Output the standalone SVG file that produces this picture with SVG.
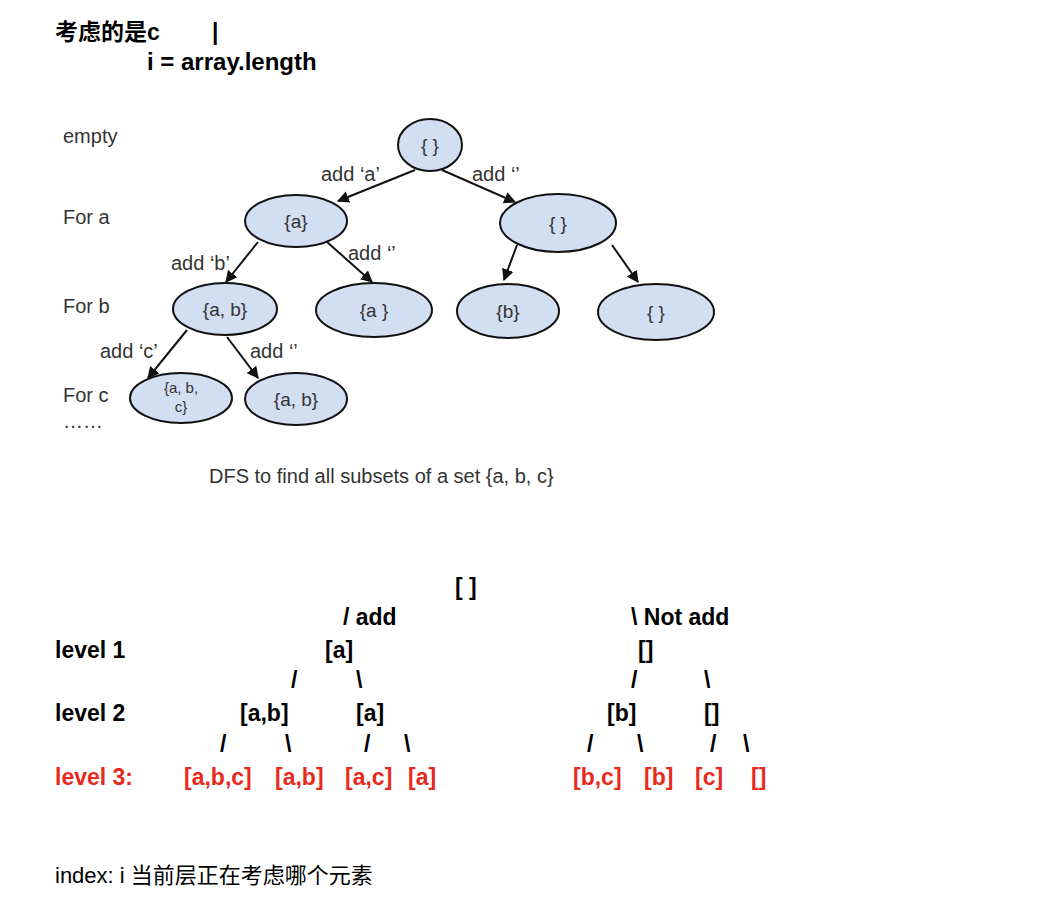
<svg xmlns="http://www.w3.org/2000/svg" width="1041" height="912" viewBox="0 0 1041 912">
<style>
.b{font-family:"Liberation Sans","Noto Sans CJK SC",sans-serif;font-weight:bold;font-size:23px;fill:#000}
.r{fill:#e8291c}
.t{font-family:"Liberation Sans",sans-serif;font-size:20px;fill:#333}
.n{font-family:"Liberation Sans",sans-serif;font-size:19px;fill:#333;text-anchor:middle}
.e{fill:#d2def2;stroke:#111;stroke-width:2}
.c{stroke:#111;stroke-width:2;fill:none;marker-end:url(#ah)}
.f{font-family:"Liberation Sans","Noto Sans CJK SC",sans-serif;font-size:22px;fill:#000}
</style>
<defs>
<marker id="ah" viewBox="0 0 10 10" refX="9" refY="5" markerWidth="6" markerHeight="6" orient="auto" markerUnits="strokeWidth">
<path d="M0,0 L10,5 L0,10 z" fill="#111"/>
</marker>
</defs>
<rect width="1041" height="912" fill="#fff"/>
<g id="header">
<text class="b" x="55" y="40">考虑的是c</text>
<text class="b" x="212" y="40">|</text>
<text class="b" x="147" y="70" style="font-size:24px">i = array.length</text>
</g>
<g id="levels-top">
<text class="t" x="63" y="143">empty</text>
<text class="t" x="63" y="224">For a</text>
<text class="t" x="63" y="313">For b</text>
<text class="t" x="63" y="402">For c</text>
<text class="t" x="63" y="428">……</text>
</g>
<g id="connectors">
<line class="c" x1="415" y1="170" x2="338" y2="201"/>
<line class="c" x1="442" y1="170" x2="515" y2="202"/>
<line class="c" x1="258" y1="242" x2="226" y2="282"/>
<line class="c" x1="327" y1="242" x2="372" y2="282"/>
<line class="c" x1="517" y1="245" x2="504" y2="280"/>
<line class="c" x1="612" y1="245" x2="638" y2="282"/>
<line class="c" x1="187" y1="330" x2="148" y2="378"/>
<line class="c" x1="227" y1="337" x2="258" y2="378"/>
<text class="t" x="321" y="181">add ‘a’</text>
<text class="t" x="472" y="181">add ‘’</text>
<text class="t" x="171" y="270">add ‘b’</text>
<text class="t" x="348" y="260">add ‘’</text>
<text class="t" x="100" y="358">add ‘c’</text>
<text class="t" x="250" y="358">add ‘’</text>
</g>
<g id="n-root"><ellipse class="e" cx="430" cy="145" rx="32" ry="26"/><text class="n" x="430" y="152">{ }</text></g>
<g id="n-a"><ellipse class="e" cx="296" cy="221" rx="51" ry="26"/><text class="n" x="296" y="228">{a}</text></g>
<g id="n-empty1"><ellipse class="e" cx="558" cy="223" rx="58" ry="29"/><text class="n" x="558" y="230">{ }</text></g>
<g id="n-ab"><ellipse class="e" cx="225" cy="309" rx="52" ry="26"/><text class="n" x="225" y="316">{a, b}</text></g>
<g id="n-a2"><ellipse class="e" cx="374" cy="310" rx="58" ry="27"/><text class="n" x="374" y="317">{a }</text></g>
<g id="n-b"><ellipse class="e" cx="508" cy="311" rx="51" ry="27"/><text class="n" x="508" y="318">{b}</text></g>
<g id="n-empty2"><ellipse class="e" cx="656" cy="312" rx="58" ry="28"/><text class="n" x="656" y="319">{ }</text></g>
<g id="n-abc"><ellipse class="e" cx="181" cy="398" rx="51" ry="25"/><text class="n" x="181" y="393" style="font-size:15px">{a, b,</text><text class="n" x="181" y="412" style="font-size:15px">c}</text></g>
<g id="n-ab2"><ellipse class="e" cx="296" cy="399" rx="51" ry="26"/><text class="n" x="296" y="406">{a, b}</text></g>
<g id="caption"><text class="t" x="209" y="483">DFS to find all subsets of a set {a, b, c}</text></g>
<g id="text-tree">
<text class="b" x="455" y="595">[ ]</text>
<text class="b" x="343" y="625">/ add</text>
<text class="b" x="631" y="625">\ Not add</text>
<text class="b" x="55" y="658">level 1</text>
<text class="b" x="325" y="658">[a]</text>
<text class="b" x="638" y="658">[]</text>
<text class="b" x="291" y="688">/</text>
<text class="b" x="356" y="688">\</text>
<text class="b" x="631" y="688">/</text>
<text class="b" x="704" y="688">\</text>
<text class="b" x="55" y="721">level 2</text>
<text class="b" x="240" y="721">[a,b]</text>
<text class="b" x="356" y="721">[a]</text>
<text class="b" x="607" y="721">[b]</text>
<text class="b" x="704" y="721">[]</text>
<text class="b" x="220" y="752">/</text>
<text class="b" x="285" y="752">\</text>
<text class="b" x="364" y="752">/</text>
<text class="b" x="404" y="752">\</text>
<text class="b" x="587" y="752">/</text>
<text class="b" x="637" y="752">\</text>
<text class="b" x="710" y="752">/</text>
<text class="b" x="743" y="752">\</text>
<text class="b r" x="55" y="785">level 3:</text>
<text class="b r" x="184" y="785">[a,b,c]</text>
<text class="b r" x="275" y="785">[a,b]</text>
<text class="b r" x="345" y="785">[a,c]</text>
<text class="b r" x="408" y="785">[a]</text>
<text class="b r" x="573" y="785">[b,c]</text>
<text class="b r" x="644" y="785">[b]</text>
<text class="b r" x="695" y="785">[c]</text>
<text class="b r" x="751" y="785">[]</text>
</g>
<g id="footer"><text class="f" x="55" y="883">index: i 当前层正在考虑哪个元素</text></g>
</svg>
